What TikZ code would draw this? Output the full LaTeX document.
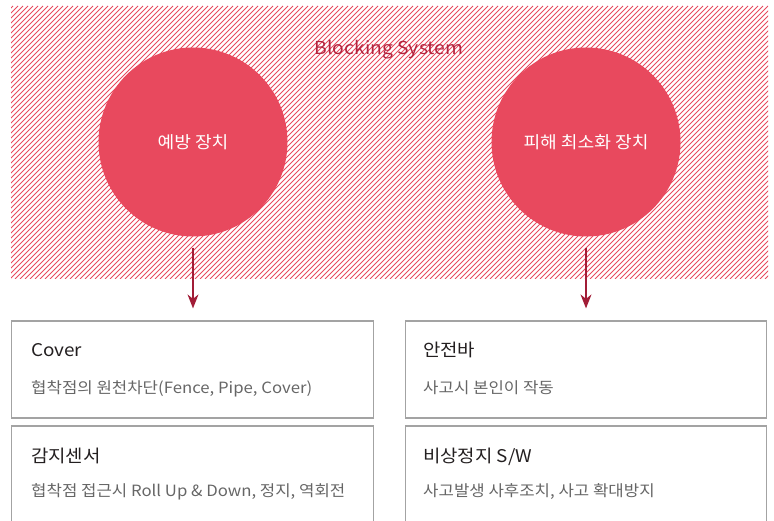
\documentclass[tikz,border=0pt]{standalone}
\usepackage{fontspec}
\setmainfont[FakeStretch=1.08]{Noto Sans CJK KR}
\usetikzlibrary{positioning, arrows.meta}
\definecolor{blockred}{HTML}{E8495E}
\definecolor{arrowred}{HTML}{A11D37}
\definecolor{systemred}{HTML}{B3243F}
\definecolor{boxgray}{HTML}{A3A3A3}
\definecolor{subgray}{HTML}{666666}
\definecolor{headblack}{HTML}{231F20}

\begin{document}
\begin{tikzpicture}[x=1pt, y=-1pt, >={Stealth[length=14pt, width=11pt]},
    device/.style={circle, fill=blockred, minimum size=189pt, inner sep=0pt, text=white, font=\fontsize{16.8}{20}\selectfont},
    measure/.style={rectangle, draw=boxgray, line width=1.2pt, minimum width=361.5pt, inner sep=0pt},
    head/.style={anchor=base west, inner sep=0pt, text=headblack, font=\fontsize{17.5}{21}\selectfont},
    detail/.style={anchor=base west, inner sep=0pt, text=subgray, font=\fontsize{15.5}{19}\selectfont},
    flow/.style={->, draw=arrowred, fill=arrowred, line width=1.2pt, shorten <=11pt, shorten >=12pt}]
  \useasboundingbox (0,0) rectangle (774,521);

  % hatched area
  \begin{scope}
    \clip (11,6) rectangle (768,279);
    \foreach \c in {-270,-265,...,772}
      \draw[blockred, line width=0.9pt] (\c,279) -- ++(273,-273);
  \end{scope}

  \node[text=systemred, font=\fontsize{17.9}{21}\selectfont] (system) at (389,50) {Blocking System};

  \node[device] (prevent) at (193,142) {예방 장치};
  \node[device] (minimize) at (586,142) {피해 최소화 장치};

  % boxes
  \node[measure, minimum height=97pt] (cover) at (192.5,369.5) {};
  \node[measure, minimum height=120pt] (sensor) at (192.5,486) {};
  \node[measure, minimum height=97pt] (bar) at (586,369.5) {};
  \node[measure, minimum height=120pt] (stop) at (586,486) {};

  \node[head] (coverHead) at (31,357) {Cover};
  \node[detail] (coverText) at (31,393) {협착점의 원천차단(Fence, Pipe, Cover)};
  \node[head] (sensorHead) at (31,462.5) {감지센서};
  \node[detail] (sensorText) at (31,496) {협착점 접근시 Roll Up \& Down, 정지, 역회전};
  \node[head] (barHead) at (423,357) {안전바};
  \node[detail] (barText) at (423,393) {사고시 본인이 작동};
  \node[head] (stopHead) at (423,462.5) {비상정지 S/W};
  \node[detail] (stopText) at (423,496) {사고발생 사후조치, 사고 확대방지};

  \draw[flow] (prevent.south) -- (prevent.south |- cover.north);
  \draw[flow] (minimize.south) -- (minimize.south |- bar.north);
\end{tikzpicture}
\end{document}
